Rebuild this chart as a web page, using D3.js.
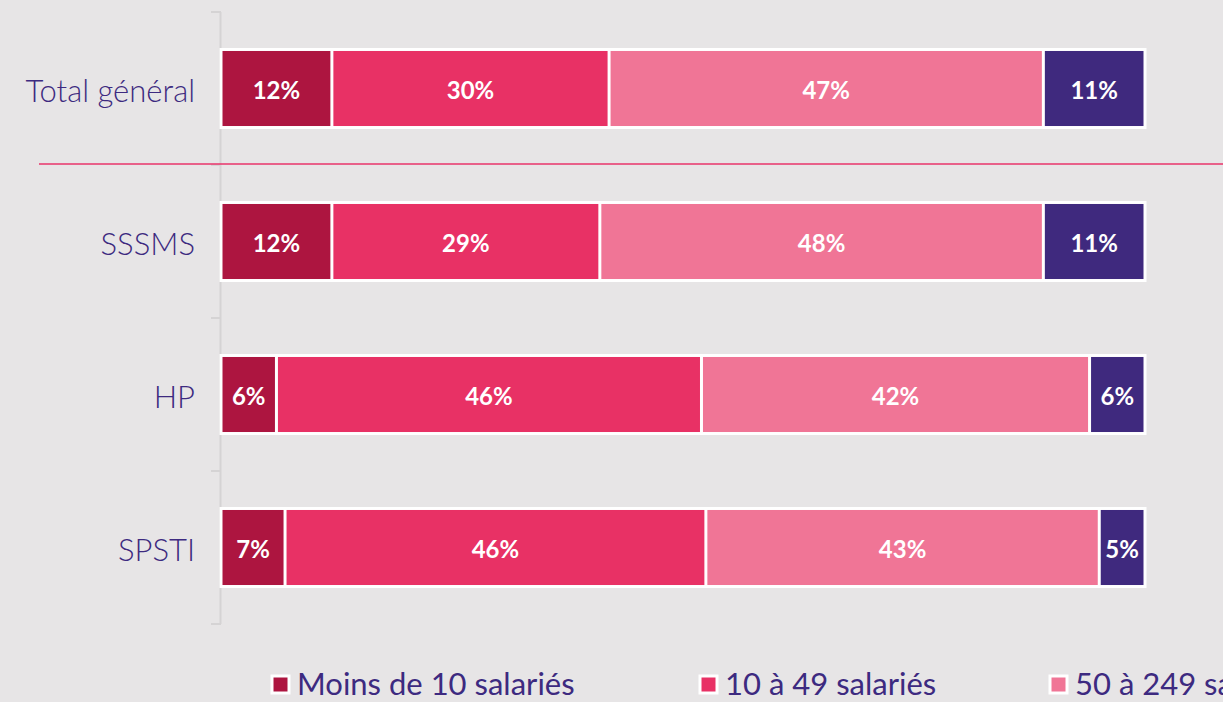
<!DOCTYPE html>
<html>
<head>
<meta charset="utf-8">
<script src="https://cdn.jsdelivr.net/npm/d3@7/dist/d3.min.js"></script>
<style>
  html, body { margin: 0; padding: 0; background: #e7e5e6; overflow: hidden; }
  svg { display: block; }
</style>
</head>
<body>
<svg id="chart" width="1223" height="702"></svg>
<script>
// Répartition des établissements par taille, par secteur
const categories = ["Total général", "SSSMS", "HP", "SPSTI"];
const seriesNames = ["Moins de 10 salariés", "10 à 49 salariés", "50 à 249 salariés", "250 salariés et plus"];
const moins10  = [12, 12, 6, 7];
const de10a49  = [30, 29, 46, 46];
const de50a249 = [47, 48, 42, 43];
const plus250  = [11, 11, 6, 5];
const seriesColors = ["#ad1540", "#e83165", "#f07596", "#3f297e"];

const seriesValues = [moins10, de10a49, de50a249, plus250];

const svg = d3.select("#chart");
const W = 1223, H = 702;
const axisX = 221;

// 100 % stacked: each row is shown as a share of its own total
const x = d3.scaleLinear().domain([0, 100]).range([axisX, 1145]);
const y = d3.scaleBand().domain(categories).range([12, 624]).paddingInner(0).paddingOuter(0);
const barH = y.bandwidth() * 0.51;

const rows = categories.map((c, i) => {
  const total = d3.sum(seriesValues, vals => vals[i]);
  let acc = 0;
  return seriesValues.map((vals, s) => {
    const share = vals[i] / total * 100;
    const seg = { cat: c, s, v: vals[i], x0: acc, x1: acc + share };
    acc += share;
    return seg;
  });
});

// category axis (ticks on band boundaries)
const axisG = svg.append("g");
axisG.append("line")
  .attr("x1", axisX - 0.5).attr("x2", axisX - 0.5)
  .attr("y1", y.range()[0]).attr("y2", y.range()[1])
  .attr("stroke", "#d5d3d4").attr("stroke-width", 2);
const bounds = categories.map(c => y(c)).concat([y.range()[1]]);
axisG.selectAll("line.tick").data(bounds).join("line")
  .attr("class", "tick")
  .attr("x1", axisX - 10).attr("x2", axisX)
  .attr("y1", d => d).attr("y2", d => d)
  .attr("stroke", "#d5d3d4").attr("stroke-width", 2);

// separator under the total row
svg.append("line")
  .attr("x1", 39).attr("x2", W)
  .attr("y1", y("SSSMS") - 1).attr("y2", y("SSSMS") - 1)
  .attr("stroke", "#e8336a").attr("stroke-width", 1.5);

// category labels
svg.append("g").selectAll("text").data(categories).join("text")
  .attr("x", 195)
  .attr("y", d => y(d) + y.bandwidth() / 2 + 1)
  .attr("text-anchor", "end")
  .attr("dominant-baseline", "central")
  .attr("font-family", "Lato, 'Open Sans', sans-serif")
  .attr("font-weight", 300)
  .attr("font-size", 31)
  .attr("fill", "#3d2a80")
  .text(d => d);

// bars
const barG = svg.append("g");
rows.forEach((row, i) => {
  const cy = y(categories[i]) + y.bandwidth() / 2;
  const g = barG.append("g");
  g.append("rect")
    .attr("x", x(0) - 1.5).attr("y", cy - barH / 2 - 1.5)
    .attr("width", x(100) - x(0) + 3).attr("height", barH + 3)
    .attr("fill", "#ffffff");
  g.selectAll("rect.seg").data(row).join("rect")
    .attr("class", "seg")
    .attr("x", d => x(d.x0) + 1.5)
    .attr("y", cy - barH / 2 + 1.5)
    .attr("width", d => Math.max(0, x(d.x1) - x(d.x0) - 3))
    .attr("height", barH - 3)
    .attr("fill", d => seriesColors[d.s]);
  g.selectAll("text").data(row).join("text")
    .attr("x", d => (x(d.x0) + x(d.x1)) / 2)
    .attr("y", cy + 1)
    .attr("text-anchor", "middle")
    .attr("dominant-baseline", "central")
    .attr("font-family", "Lato, 'Open Sans', sans-serif")
    .attr("font-weight", "bold")
    .attr("font-size", 24)
    .attr("fill", "#ffffff")
    .text(d => d.v + "%");
});

// legend
const legendX = [272, 700, 1050, 1400];
const lg = svg.append("g").selectAll("g").data(seriesNames).join("g")
  .attr("transform", (d, i) => `translate(${legendX[i]},673)`);
lg.append("rect")
  .attr("x", 0).attr("y", 3).attr("width", 17).attr("height", 17)
  .attr("fill", (d, i) => seriesColors[i])
  .attr("stroke", "#ffffff").attr("stroke-width", 3);
lg.append("text")
  .attr("x", 25).attr("y", 22)
  .attr("font-family", "Lato, 'Open Sans', sans-serif")
  .attr("font-size", 31)
  .attr("fill", "#3d2a80")
  .text(d => d);
</script>
</body>
</html>
